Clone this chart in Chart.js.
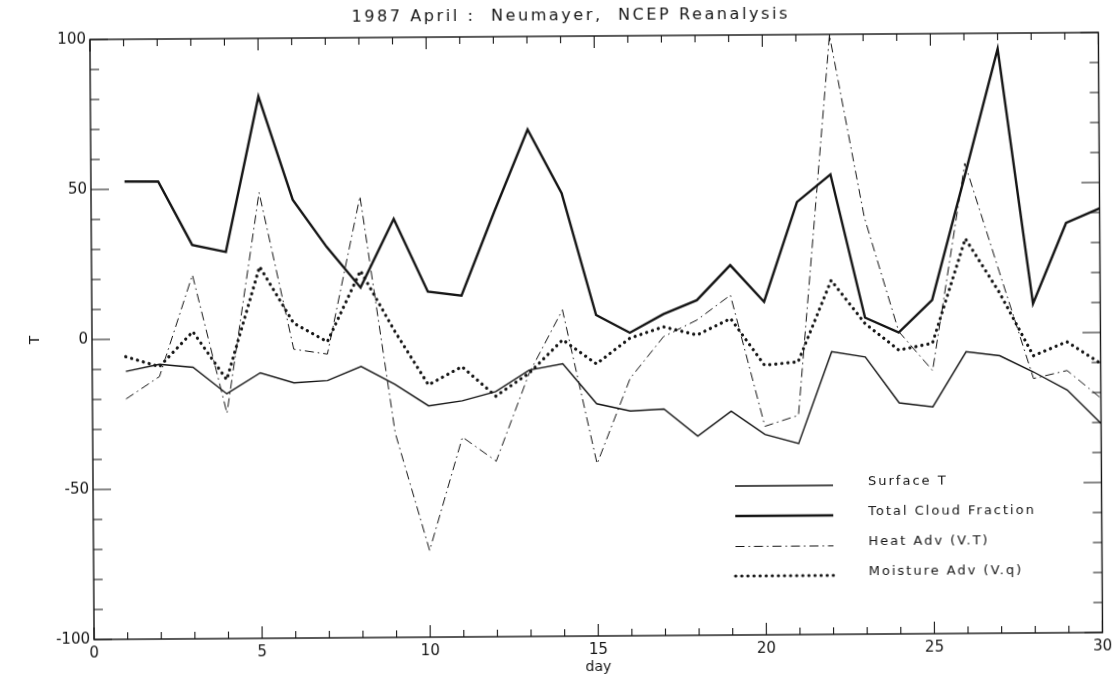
<!DOCTYPE html>
<html>
<head>
<meta charset="utf-8">
<script src="https://cdn.jsdelivr.net/npm/chart.js@4.4.0/dist/chart.umd.min.js"></script>
<style>
  html, body { margin: 0; padding: 0; background: #fff; overflow: hidden; }
  /* the scanned original is slightly tilted */
  canvas { display: block; transform: rotate(-0.4deg); transform-origin: 597px 336px; }
</style>
</head>
<body>
<canvas id="chart" width="1115" height="677"></canvas>
<script>
const titleText = '1987 April :  Neumayer,  NCEP Reanalysis';
const seriesNames = ['Surface T', 'Total Cloud Fraction', 'Heat Adv (V.T)', 'Moisture Adv (V.q)'];

const days = [1, 2, 3, 4, 5, 6, 7, 8, 9, 10, 11, 12, 13, 14, 15, 16, 17, 18, 19, 20, 21, 22, 23, 24, 25, 26, 27, 28, 29, 30];
const surfaceT = [-10.7, -8.4, -9.5, -18.4, -11.5, -14.9, -14.2, -9.6, -15.6, -22.9, -21.3, -18.3, -11.2, -9.2, -22.6, -25.1, -24.5, -33.6, -25.4, -33.2, -36.3, -5.8, -7.6, -23.0, -24.4, -6.1, -7.5, -13.0, -19.1, -30.3];
const cloudFrac = [52.6, 52.5, 31.3, 28.9, 80.6, 46.1, 30.3, 16.7, 39.5, 15.2, 13.8, 41.9, 69.0, 47.7, 7.0, 1.0, 7.1, 11.7, 23.3, 11.0, 44.2, 53.3, 5.5, 0.5, 11.2, 52.7, 94.8, 9.8, 36.6, 41.4];
const heatAdv = [-19.9, -12.5, 21.3, -24.9, 48.6, -3.7, -5.4, 47.1, -31.8, -71.1, -33.4, -41.5, -12.2, 8.8, -42.6, -14.2, -0.4, 5.1, 13.3, -30.5, -26.9, 99.7, 38.9, 0.8, -12.3, 56.7, 20.6, -15.2, -12.6, -21.9];
const moistAdv = [-5.8, -9.2, 2.4, -13.7, 23.9, 5.0, -1.3, 22.3, 2.2, -15.9, -9.9, -19.8, -12.2, -1.2, -9.3, -0.8, 2.9, 0.1, 5.5, -10.1, -9.1, 18.0, 3.5, -5.4, -3.2, 31.6, 13.6, -7.6, -3.0, -10.3];

const xTickValues = [0, 5, 10, 15, 20, 25, 30];
const yTickValues = [-100, -50, 0, 50, 100];

const ink = '#151515';
const fontFamily = "'DejaVu Sans', sans-serif";

function toPoints(values) {
    return days.map((d, i) => ({ x: d, y: values[i] }));
}

// cornice + tacche verso l'interno su tutti e quattro i lati
const frameTicks = {
    id: 'frameTicks',
    afterDatasetsDraw(chart) {
        const { ctx, chartArea: a, scales: { x, y } } = chart;
        ctx.save();
        ctx.strokeStyle = ink;
        ctx.lineWidth = 1.4;
        ctx.strokeRect(a.left, a.top, a.right - a.left, a.bottom - a.top);
        ctx.lineWidth = 1.1;
        ctx.beginPath();
        for (let d = x.min; d <= x.max; d++) {
            const px = x.getPixelForValue(d);
            const len = d % 5 === 0 ? 12 : 7;
            ctx.moveTo(px, a.bottom); ctx.lineTo(px, a.bottom - len);
            ctx.moveTo(px, a.top); ctx.lineTo(px, a.top + len);
        }
        for (let v = y.min; v <= y.max; v += 10) {
            const py = y.getPixelForValue(v);
            const len = v % 50 === 0 ? 18 : 9;
            ctx.moveTo(a.left, py); ctx.lineTo(a.left + len, py);
            ctx.moveTo(a.right, py); ctx.lineTo(a.right - len, py);
        }
        ctx.stroke();
        ctx.restore();
    }
};

// titolo con spaziatura larga
const wideTitle = {
    id: 'wideTitle',
    afterDraw(chart) {
        const ctx = chart.ctx;
        ctx.save();
        ctx.fillStyle = ink;
        ctx.font = '16px ' + fontFamily;
        ctx.letterSpacing = '2.6px';
        ctx.textAlign = 'center';
        ctx.textBaseline = 'alphabetic';
        ctx.fillText(titleText, 573, 19.5);
        ctx.restore();
    }
};

// legenda dentro il grafico, in basso a destra
const innerLegend = {
    id: 'innerLegend',
    afterDraw(chart) {
        const { ctx, chartArea: a } = chart;
        const rows = [451, 481, 511.5, 541];
        ctx.save();
        chart.data.datasets.forEach((ds, i) => {
            const yRow = a.top + rows[i];
            ctx.beginPath();
            ctx.strokeStyle = ds.borderColor;
            ctx.lineWidth = ds.borderWidth;
            ctx.lineCap = ds.borderCapStyle || 'butt';
            ctx.setLineDash(ds.borderDash || []);
            ctx.moveTo(a.left + 642, yRow);
            ctx.lineTo(a.left + 740, yRow);
            ctx.stroke();
            ctx.setLineDash([]);
            ctx.fillStyle = ink;
            ctx.font = '13px ' + fontFamily;
            ctx.letterSpacing = '2px';
            ctx.textAlign = 'left';
            ctx.textBaseline = 'alphabetic';
            ctx.fillText(ds.label, a.left + 775, yRow - 5 + 4.7);
            ctx.letterSpacing = '0px';
        });
        ctx.restore();
    }
};

new Chart(document.getElementById('chart'), {
    type: 'line',
    data: {
        datasets: [
            {
                label: seriesNames[0],
                data: toPoints(surfaceT),
                borderColor: ink,
                borderWidth: 1.4,
                pointRadius: 0,
                tension: 0
            },
            {
                label: seriesNames[1],
                data: toPoints(cloudFrac),
                borderColor: ink,
                borderWidth: 2.4,
                pointRadius: 0,
                tension: 0
            },
            {
                label: seriesNames[2],
                data: toPoints(heatAdv),
                borderColor: ink,
                borderWidth: 1,
                borderDash: [9, 4, 1.5, 4],
                pointRadius: 0,
                tension: 0
            },
            {
                label: seriesNames[3],
                data: toPoints(moistAdv),
                borderColor: ink,
                borderWidth: 3.2,
                borderDash: [0.1, 6],
                borderCapStyle: 'round',
                pointRadius: 0,
                tension: 0
            }
        ]
    },
    options: {
        responsive: false,
        animation: false,
        devicePixelRatio: 1,
        layout: { padding: { left: 0, right: 12, top: 36, bottom: 0 } },
        plugins: {
            legend: { display: false },
            title: { display: false },
            tooltip: { enabled: false }
        },
        scales: {
            x: {
                type: 'linear',
                min: 0,
                max: 30,
                afterBuildTicks: s => { s.ticks = xTickValues.map(v => ({ value: v })); },
                afterFit: s => { s.height = 41; },
                grid: { display: false, drawTicks: false },
                border: { display: false },
                ticks: { color: ink, padding: 5, maxRotation: 0, font: { family: fontFamily, size: 15 } },
                title: { display: true, text: 'day', color: ink, padding: { top: 0, bottom: 1.6 }, font: { family: fontFamily, size: 14 } }
            },
            y: {
                type: 'linear',
                min: -100,
                max: 100,
                afterBuildTicks: s => { s.ticks = yTickValues.map(v => ({ value: v })); },
                afterFit: s => { s.width = 92; },
                grid: { display: false, drawTicks: false },
                border: { display: false },
                ticks: { color: ink, padding: 4, font: { family: fontFamily, size: 15 } },
                title: { display: true, text: 'T', color: ink, padding: { top: 26.6, bottom: 0 }, font: { family: fontFamily, size: 14 } }
            }
        }
    },
    plugins: [frameTicks, wideTitle, innerLegend]
});
</script>
</body>
</html>
